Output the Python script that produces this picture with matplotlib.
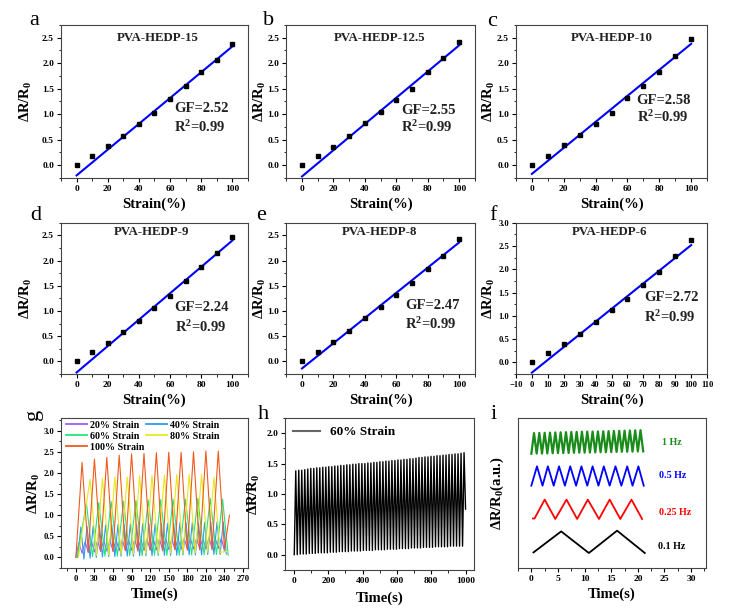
import numpy as np
import matplotlib.pyplot as plt
from matplotlib.ticker import MultipleLocator
from matplotlib.lines import Line2D

plt.rcParams.update({
    "font.family": "serif",
    "font.serif": ["Liberation Serif"],
    "font.weight": "bold",
    "mathtext.fontset": "custom",
    "mathtext.rm": "Liberation Serif:bold",
    "mathtext.bf": "Liberation Serif:bold",
    "mathtext.it": "Liberation Serif:bold",
})

# ---------------- data: strain sweeps a-f ----------------
strain = [0, 10, 20, 30, 40, 50, 60, 70, 80, 90, 100]
names = ["PVA-HEDP-15", "PVA-HEDP-12.5", "PVA-HEDP-10",
         "PVA-HEDP-9", "PVA-HEDP-8", "PVA-HEDP-6"]
resp_a = [0.00, 0.18, 0.38, 0.58, 0.80, 1.03, 1.29, 1.55, 1.82, 2.07, 2.38]
resp_b = [0.00, 0.19, 0.36, 0.58, 0.82, 1.04, 1.27, 1.50, 1.83, 2.10, 2.41]
resp_c = [0.00, 0.19, 0.39, 0.60, 0.80, 1.03, 1.32, 1.55, 1.83, 2.15, 2.48]
resp_d = [0.00, 0.19, 0.37, 0.58, 0.81, 1.05, 1.30, 1.60, 1.87, 2.15, 2.46]
resp_e = [0.00, 0.19, 0.39, 0.60, 0.86, 1.07, 1.31, 1.55, 1.83, 2.10, 2.42]
resp_f = [0.00, 0.20, 0.40, 0.62, 0.87, 1.12, 1.37, 1.66, 1.95, 2.29, 2.63]
gf_labels = ["2.52", "2.55", "2.58", "2.24", "2.47", "2.72"]
r2_labels = ["0.99"] * 6
fit_start = [-0.20, -0.22, -0.17, -0.22, -0.14, -0.22]   # fitted line at 0 %
fit_end = [2.33, 2.35, 2.38, 2.40, 2.36, 2.52]           # fitted line at 100 %

# ---------------- data: cycling g ----------------
g_orange_tp = [10, 30, 50, 70, 90, 110, 130, 150, 170, 190, 210, 230]
g_orange_p = [2.25, 2.33, 2.37, 2.42, 2.45, 2.46, 2.48, 2.49, 2.49, 2.50, 2.52, 2.52]
g_orange_tv = [0, 20, 40, 60, 80, 100, 120, 140, 160, 180, 200, 220, 240, 248]
g_orange_v = [0.0, 0.12, 0.15, 0.14, 0.16, 0.15, 0.17, 0.16, 0.18, 0.17, 0.18, 0.18, 0.20, 1.00]

g_yellow_tp = [23, 43, 63, 83, 103, 123, 143, 163, 183, 203, 223]
g_yellow_p = [1.85, 1.88, 1.90, 1.90, 1.93, 1.94, 1.95, 1.96, 1.96, 1.97, 1.90]
g_yellow_tv = [4, 33, 53, 73, 93, 113, 133, 153, 173, 193, 213, 233, 246]
g_yellow_v = [0.0, 0.05, 0.06, 0.07, 0.08, 0.08, 0.09, 0.10, 0.10, 0.11, 0.12, 0.12, 0.15]

g_green_tp = [17, 37, 57, 77, 97, 117, 137, 157, 177, 197, 217, 237]
g_green_p = [1.28, 1.30, 1.32, 1.33, 1.35, 1.36, 1.37, 1.38, 1.38, 1.40, 1.40, 1.38]
g_green_tv = [2, 27, 47, 67, 87, 107, 127, 147, 167, 187, 207, 227, 246]
g_green_v = [0.0, 0.02, 0.03, 0.03, 0.04, 0.04, 0.05, 0.05, 0.05, 0.06, 0.06, 0.07, 0.05]

g_blue_period = 10.0
g_blue_p = [0.72, 0.74, 0.75, 0.76, 0.77, 0.77, 0.78, 0.78, 0.79, 0.79, 0.80, 0.80,
            0.80, 0.81, 0.81, 0.81, 0.82, 0.82, 0.82, 0.83, 0.83, 0.83, 0.84, 0.84]
g_blue_v = [0.0, -0.04, -0.02, 0.00, 0.01, 0.02, 0.02, 0.03, 0.03, 0.03, 0.04, 0.04,
            0.04, 0.05, 0.05, 0.05, 0.05, 0.06, 0.06, 0.06, 0.06, 0.07, 0.07, 0.07, 0.08]
g_purple_period = 10.0
g_purple_p = [0.36, 0.38, 0.39, 0.40, 0.41, 0.41, 0.42, 0.42, 0.42, 0.43, 0.43, 0.43,
              0.44, 0.44, 0.44, 0.44, 0.45, 0.45, 0.45, 0.45, 0.45, 0.46, 0.46, 0.46]
g_purple_v = [0.0, 0.10, 0.12, 0.13, 0.14, 0.15, 0.15, 0.16, 0.16, 0.17, 0.17, 0.17,
              0.18, 0.18, 0.18, 0.19, 0.19, 0.19, 0.20, 0.20, 0.20, 0.20, 0.21, 0.21, 0.15]
g_labels = ["20% Strain", "40% Strain", "60% Strain", "80% Strain", "100% Strain"]

# ---------------- data: long cycling h ----------------
h_period = 17.5
h_peaks = [1.38, 1.39, 1.39, 1.40, 1.41, 1.42, 1.42, 1.43, 1.43, 1.44, 1.44, 1.45,
           1.45, 1.46, 1.46, 1.47, 1.47, 1.48, 1.48, 1.49, 1.49, 1.50, 1.50, 1.50,
           1.51, 1.51, 1.52, 1.52, 1.53, 1.53, 1.54, 1.54, 1.55, 1.55, 1.56, 1.56,
           1.57, 1.57, 1.58, 1.58, 1.59, 1.60, 1.60, 1.61, 1.61, 1.62, 1.62, 1.63,
           1.63, 1.64, 1.64, 1.65, 1.65, 1.66, 1.66, 1.67, 1.68]
h_valleys = [0.00, 0.00, 0.01, 0.01, 0.01, 0.02, 0.02, 0.02, 0.03, 0.03, 0.03, 0.03,
             0.04, 0.04, 0.04, 0.05, 0.05, 0.05, 0.05, 0.06, 0.06, 0.06, 0.06, 0.07,
             0.07, 0.07, 0.07, 0.08, 0.08, 0.08, 0.08, 0.09, 0.09, 0.09, 0.09, 0.10,
             0.10, 0.10, 0.10, 0.11, 0.11, 0.11, 0.11, 0.12, 0.12, 0.12, 0.12, 0.13,
             0.13, 0.13, 0.13, 0.13, 0.14, 0.14, 0.14, 0.14, 0.14, 0.75]

# ---------------- data: frequency i ----------------
i_black_t = [0.4, 5.6, 10.8, 16.1, 21.3]
i_black_y = [1.04, 2.44, 1.00, 2.49, 1.00]
i_red_t = [0.3, 0.6, 2.5, 4.5, 6.6, 8.6, 10.6, 12.7, 14.7, 16.7, 18.8, 20.8]
i_red_y = [3.30, 3.30, 4.56, 3.27, 4.56, 3.27, 4.56, 3.27, 4.56, 3.27, 4.56, 3.27]
i_blue_t = [0.0, 1.06, 2.1, 3.1, 4.2, 5.2, 6.3, 7.3, 8.4, 9.4, 10.5, 11.5,
            12.6, 13.6, 14.7, 15.8, 16.9, 18.0, 19.0, 20.1, 21.1]
i_blue_y = [5.49, 6.78, 5.49, 6.78, 5.49, 6.78, 5.49, 6.78, 5.49, 6.78, 5.49, 6.78,
            5.49, 6.78, 5.49, 6.78, 5.49, 6.78, 5.49, 6.78, 5.49]
i_green_peaks = [9.00, 9.01, 9.02, 9.03, 9.04, 9.05, 9.06, 9.07, 9.08, 9.09, 9.10,
                 9.10, 9.11, 9.12, 9.13, 9.14, 9.15, 9.16, 9.17, 9.18, 9.19]
i_green_valleys = [7.62, 7.63, 7.63, 7.64, 7.65, 7.66, 7.66, 7.67, 7.68, 7.69, 7.69,
                   7.70, 7.71, 7.72, 7.72, 7.73, 7.74, 7.75, 7.75, 7.76, 7.77, 7.78]
i_labels = ["1 Hz", "0.5 Hz", "0.25 Hz", "0.1 Hz"]

TICK = 6.8
LAB = 10.5
NOTE = 10.5


def zigzag(t_p, p, t_v, v):
    t = np.concatenate([t_p, t_v])
    y = np.concatenate([p, v])
    order = np.argsort(t, kind="stable")
    return t[order], y[order]


def periodic(period, peaks, valleys, phase=0.0):
    tp = phase + period / 2 + period * np.arange(len(peaks))
    tv = phase + period * np.arange(len(valleys))
    return zigzag(tp, peaks, tv, valleys)


def style(ax, labsize=TICK):
    ax.tick_params(which="both", direction="out", top=False, right=False,
                   labelsize=labsize, pad=2)
    ax.tick_params(which="major", length=3, width=0.8)
    ax.tick_params(which="minor", length=1.8, width=0.6)
    for lab in ax.get_xticklabels() + ax.get_yticklabels():
        lab.set_fontweight("bold")
    for s in ax.spines.values():
        s.set_linewidth(0.8)
        s.set_color("#444444")


fig = plt.figure(figsize=(7.35, 6.12), dpi=100)

rows = [(0.7092, 0.250), (0.3889, 0.247), (0.0719, 0.245)]
cols = [(0.083, 0.2544), (0.3895, 0.2565), (0.702, 0.260)]

resp = [resp_a, resp_b, resp_c, resp_d, resp_e, resp_f]
title_y = [0.915, 0.915, 0.915, 0.94, 0.94, 0.94]
title_x = [0.52, 0.495, 0.50, 0.485, 0.497, 0.49]
gf_pos = [(0.604, 0.457, 0.333), (0.61, 0.444, 0.33), (0.632, 0.505, 0.40),
          (0.608, 0.437, 0.313), (0.63, 0.45, 0.33), (0.67, 0.508, 0.38)]
ylab_x = [-0.144, -0.098, -0.098, -0.144, -0.098, -0.098, -0.099, -0.121, -0.063]
letter_pos = [(0.046, 0.967), (0.365, 0.967), (0.67, 0.965),
              (0.048, 0.648), (0.355, 0.648), (0.671, 0.648),
              (0.046, 0.322), (0.358, 0.322), (0.671, 0.322)]

xs = np.array(strain, dtype=float)
for k in range(6):
    r, c = divmod(k, 3)
    ax = fig.add_axes([cols[c][0], rows[r][0], cols[c][1], rows[r][1]])
    ax.plot(xs, resp[k], "s", color="k", ms=2.8, zorder=3)
    slope = (fit_end[k] - fit_start[k]) / 100.0
    ax.plot(xs, fit_start[k] + slope * xs, color="#0000ff", lw=1.5)
    if k == 5:
        ax.set_ylim(-0.25, 3.0)
        ax.xaxis.set_major_locator(MultipleLocator(10))
        ax.xaxis.set_major_formatter("{x:.0f}")
    else:
        ax.set_ylim(-0.25, 2.75)
        ax.xaxis.set_major_locator(MultipleLocator(20))
        ax.xaxis.set_minor_locator(MultipleLocator(10))
    ax.yaxis.set_major_locator(MultipleLocator(0.5))
    ax.yaxis.set_minor_locator(MultipleLocator(0.25))
    ax.yaxis.set_major_formatter("{x:.1f}")
    ax.set_xlim(-10, 110)
    style(ax, TICK - 0.6 if k == 5 else TICK)
    ax.set_xlabel("Strain(%)", fontsize=LAB, fontweight="bold", labelpad=3)
    ax.set_ylabel("ΔR/R$_0$", fontsize=LAB, fontweight="bold")
    ax.yaxis.set_label_coords(ylab_x[k], 0.5)
    ax.text(title_x[k], title_y[k], names[k], transform=ax.transAxes,
            ha="center", va="center", fontsize=9.3, fontweight="bold", color="#222222")
    gx, gy, ry = gf_pos[k]
    ax.text(gx, gy, "GF=" + gf_labels[k], transform=ax.transAxes,
            ha="left", va="center", fontsize=NOTE, fontweight="bold", color="#222222")
    ax.text(gx, ry, "R$^2$=" + r2_labels[k], transform=ax.transAxes,
            ha="left", va="center", fontsize=NOTE, fontweight="bold", color="#222222")

# ---- g ----
axg = fig.add_axes([cols[0][0], rows[2][0], cols[0][1], rows[2][1]])
g_lines = []
t, y = periodic(g_purple_period, g_purple_p, g_purple_v, phase=0.0)
g_lines += axg.plot(t, y, color="#a35cf0", lw=0.8)
t, y = periodic(g_blue_period, g_blue_p, g_blue_v, phase=3.0)
g_lines += axg.plot(t, y, color="#2e9bf0", lw=0.8)
t, y = zigzag(g_green_tp, g_green_p, g_green_tv, g_green_v)
g_lines += axg.plot(t, y, color="#22e67a", lw=0.8)
t, y = zigzag(g_yellow_tp, g_yellow_p, g_yellow_tv, g_yellow_v)
g_lines += axg.plot(t, y, color="#e8e81a", lw=0.8)
t, y = zigzag(g_orange_tp, g_orange_p, g_orange_tv, g_orange_v)
g_lines += axg.plot(t, y, color="#f05a1e", lw=0.8)
axg.set_xlim(-24, 278)
axg.set_ylim(-0.25, 3.3)
axg.xaxis.set_major_locator(MultipleLocator(30))
axg.xaxis.set_minor_locator(MultipleLocator(15))
axg.yaxis.set_major_locator(MultipleLocator(0.5))
axg.yaxis.set_minor_locator(MultipleLocator(0.25))
axg.yaxis.set_major_formatter("{x:.1f}")
style(axg, TICK - 0.6)
axg.set_xlabel("Time(s)", fontsize=LAB, fontweight="bold", labelpad=3)
axg.set_ylabel("ΔR/R$_0$", fontsize=LAB, fontweight="bold")
axg.yaxis.set_label_coords(ylab_x[6], 0.5)
# row-wise legend order: 20|40, 60|80, 100
order = [0, 2, 4, 1, 3]
leg = axg.legend([g_lines[i] for i in order], [g_labels[i] for i in order],
                 loc="upper left", ncol=2, frameon=False, fontsize=7.2,
                 handlelength=2.1, handletextpad=0.3, columnspacing=0.2,
                 labelspacing=0.2, borderaxespad=0.1, bbox_to_anchor=(0.0, 1.015))
for line in leg.get_lines():
    line.set_linewidth(1.3)
for txt in leg.get_texts():
    txt.set_fontweight("bold")

# ---- h ----
axh = fig.add_axes([cols[1][0] - 0.0013, rows[2][0] - 0.003, 0.257, 0.248])
t, y = periodic(h_period, h_peaks, h_valleys, phase=2.0)
axh.plot(t, y, color="k", lw=1.0)
axh.set_xlim(-50, 1050)
axh.set_ylim(-0.25, 2.25)
axh.xaxis.set_major_locator(MultipleLocator(200))
axh.xaxis.set_minor_locator(MultipleLocator(100))
axh.yaxis.set_major_locator(MultipleLocator(0.5))
axh.yaxis.set_minor_locator(MultipleLocator(0.25))
axh.yaxis.set_major_formatter("{x:.1f}")
style(axh)
axh.set_xlabel("Time(s)", fontsize=LAB, fontweight="bold", labelpad=5)
axh.set_ylabel("ΔR/R$_0$", fontsize=LAB, fontweight="bold")
axh.yaxis.set_label_coords(ylab_x[7], 0.5)
legh = axh.legend([Line2D([], [], color="#666666", lw=1.5)], ["60% Strain"],
                  loc="upper left", frameon=False, fontsize=9.5,
                  handlelength=2.0, handletextpad=0.8, borderaxespad=0.2)
for txt in legh.get_texts():
    txt.set_fontweight("bold")

# ---- i ----
axi = fig.add_axes([0.7048, rows[2][0], 0.2558, rows[2][1]])
axi.plot(i_black_t, i_black_y, color="k", lw=1.3)
axi.plot(i_red_t, i_red_y, color="#ff0000", lw=1.3)
axi.plot(i_blue_t, i_blue_y, color="#0000ff", lw=1.3)
t, y = periodic(1.0, i_green_peaks, i_green_valleys, phase=0.0)
axi.plot(t, y, color="#1a8c1a", lw=1.6)
label_y = [8.35, 6.15, 3.7, 1.45]
label_c = ["#1a8c1a", "#0000ff", "#ff0000", "k"]
label_x = [26.3, 26.5, 27.0, 26.3]
for lab, ly, lc, lx in zip(i_labels, label_y, label_c, label_x):
    axi.text(lx, ly, lab, color=lc, ha="center", va="center",
             fontsize=7.2, fontweight="bold")
axi.set_xlim(-2.5, 32.8)
axi.set_ylim(0, 10)
axi.xaxis.set_major_locator(MultipleLocator(5))
axi.xaxis.set_minor_locator(MultipleLocator(2.5))
axi.set_yticks([])
style(axi)
axi.set_xlabel("Time(s)", fontsize=LAB, fontweight="bold", labelpad=3)
axi.set_ylabel("ΔR/R$_0$(a.u.)", fontsize=LAB, fontweight="bold")
axi.yaxis.set_label_coords(ylab_x[8], 0.5)

for k, (lx, ly) in enumerate(letter_pos):
    rot = 90 if k == 6 else 0
    fig.text(lx, ly, "abcdefghi"[k], fontsize=16, fontweight="normal",
             ha="center", va="center", rotation=rot)

fig.savefig("out.png", dpi=100)
